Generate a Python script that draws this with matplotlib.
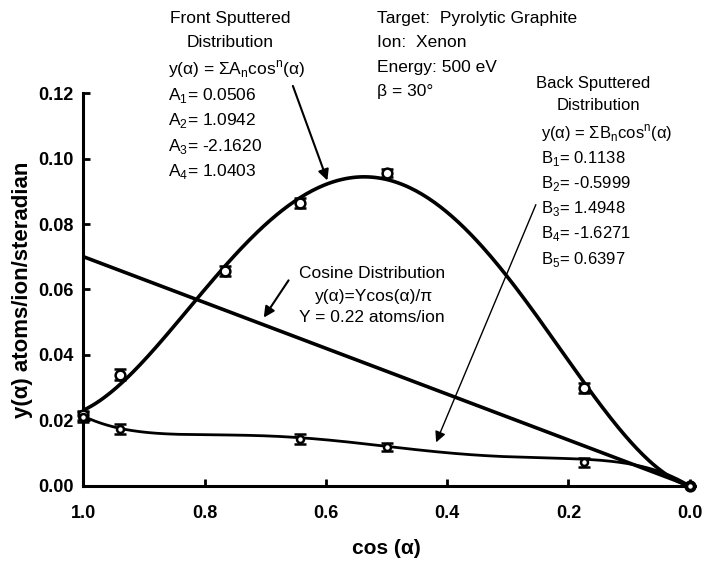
import numpy as np
import matplotlib.pyplot as plt

plt.rcParams['font.family'] = ['Liberation Sans', 'DejaVu Sans']

# measured points (cos alpha for alpha = 0, 20, 40, 50, 60, 80, 90 deg)
front_x = [1.0, 0.940, 0.766, 0.643, 0.500, 0.174, 0.0]
front_y = [0.0215, 0.0340, 0.0656, 0.0864, 0.0955, 0.0300, 0.0]
front_err = [0.0015, 0.0018, 0.0015, 0.0015, 0.0012, 0.0015, 0.0]

back_x = [1.0, 0.940, 0.643, 0.500, 0.174, 0.0]
back_y = [0.0210, 0.0174, 0.0144, 0.0119, 0.0072, 0.0]
back_err = [0.0015, 0.0015, 0.0015, 0.0013, 0.0013, 0.0]

# fit coefficients printed on the chart (n = 1..)
A = [0.0506, 1.0942, -2.1620, 1.0403]
B = [0.1138, -0.5999, 1.4948, -1.6271, 0.6397]
Y_total = 0.22

fig = plt.figure(figsize=(7.06, 5.61), dpi=100)
ax = fig.add_axes([0.118, 0.134, 0.859, 0.700])

xs = np.linspace(0, 1, 300)
front_fit = np.polynomial.polynomial.polyval(xs, [0.0] + A)
back_fit = np.polynomial.polynomial.polyval(xs, [0.0] + B)
ax.plot(xs, front_fit, color='black', lw=2.6, zorder=3)
ax.plot(xs, back_fit, color='black', lw=2.0, zorder=3)
ax.plot([1.0, 0.0], [Y_total / np.pi, 0.0], color='black', lw=2.6, zorder=3)

ax.errorbar(front_x, front_y, yerr=front_err, fmt='o', ms=7, mfc='white',
            mec='black', mew=1.8, ecolor='black', elinewidth=2, capsize=4,
            capthick=2, zorder=4, clip_on=False)
ax.errorbar(back_x, back_y, yerr=back_err, fmt='o', ms=5, mfc='white',
            mec='black', mew=1.8, ecolor='black', elinewidth=3, capsize=4,
            capthick=2.5, zorder=4, clip_on=False)

ax.set_xlim(1.0, 0.0)
ax.set_ylim(0.0, 0.12)
ax.set_xticks([1.0, 0.8, 0.6, 0.4, 0.2, 0.0])
ax.set_xticklabels(['1.0', '0.8', '0.6', '0.4', '0.2', '0.0'])
ax.set_yticks(np.arange(0, 0.121, 0.02))
ax.set_yticklabels(['0.00', '0.02', '0.04', '0.06', '0.08', '0.10', '0.12'])
for s in ['top', 'right']:
    ax.spines[s].set_visible(False)
for s in ['left', 'bottom']:
    ax.spines[s].set_linewidth(2.2)
ax.tick_params(direction='in', length=5, width=2, labelsize=13)
ax.tick_params(axis='x', pad=14)
ax.tick_params(axis='y', pad=7)
for lab in ax.get_xticklabels() + ax.get_yticklabels():
    lab.set_fontweight('bold')

ax.set_xlabel('cos (α)', fontsize=15, fontweight='bold', labelpad=12)
ax.set_ylabel('y(α) atoms/ion/steradian', fontsize=16, fontweight='bold', labelpad=4)

fs = 12.5
# front sputtered block
ax.text(0.758, 0.1429, 'Front Sputtered', fontsize=fs, ha='center', va='center', clip_on=False)
ax.text(0.758, 0.1356, 'Distribution', fontsize=fs, ha='center', va='center', clip_on=False)
front_lines = [r'y(α) = ΣA$_\mathregular{n}$cos$^\mathregular{n}$(α)',
               r'A$_\mathregular{1}$= 0.0506', r'A$_\mathregular{2}$= 1.0942',
               r'A$_\mathregular{3}$= -2.1620', r'A$_\mathregular{4}$= 1.0403']
for i, t in enumerate(front_lines):
    ax.text(0.860, 0.1272 - i * 0.0078, t, fontsize=fs, ha='left', va='center', clip_on=False)

# target info
info = ['Target:  Pyrolytic Graphite', 'Ion:  Xenon', 'Energy: 500 eV', 'β = 30°']
for i, t in enumerate(info):
    ax.text(0.516, 0.1429 - i * 0.0075, t, fontsize=fs, ha='left', va='center', clip_on=False)

# back sputtered block
ax.text(0.160, 0.1230, 'Back Sputtered', fontsize=fs - 0.5, ha='center', va='center')
ax.text(0.150, 0.1163, 'Distribution', fontsize=fs - 0.5, ha='center', va='center')
back_lines = [r'y(α) = ΣB$_\mathregular{n}$cos$^\mathregular{n}$(α)',
              r'B$_\mathregular{1}$= 0.1138', r'B$_\mathregular{2}$= -0.5999',
              r'B$_\mathregular{3}$= 1.4948', r'B$_\mathregular{4}$= -1.6271',
              r'B$_\mathregular{5}$= 0.6397']
for i, t in enumerate(back_lines):
    ax.text(0.245, 0.1078 - i * 0.0077, t, fontsize=fs - 0.5, ha='left', va='center')

# cosine label
ax.text(0.524, 0.0650, 'Cosine Distribution', fontsize=fs, ha='center', va='center')
ax.text(0.520, 0.0580, 'y(α)=Ycos(α)/π', fontsize=fs, ha='center', va='center')
ax.text(0.524, 0.0513, 'Y = 0.22 atoms/ion', fontsize=fs, ha='center', va='center')

arrow = dict(arrowstyle='-|>', color='black', lw=1.5, mutation_scale=16)
ax.annotate('', xy=(0.596, 0.0925), xytext=(0.656, 0.1230), arrowprops=arrow,
            annotation_clip=False)
ax.annotate('', xy=(0.705, 0.0507), xytext=(0.659, 0.0635), arrowprops=arrow)
ax.annotate('', xy=(0.420, 0.0125), xytext=(0.252, 0.0867),
            arrowprops=dict(arrowstyle='-|>', color='black', lw=1.0, mutation_scale=16))

fig.savefig('out.png', dpi=100)
